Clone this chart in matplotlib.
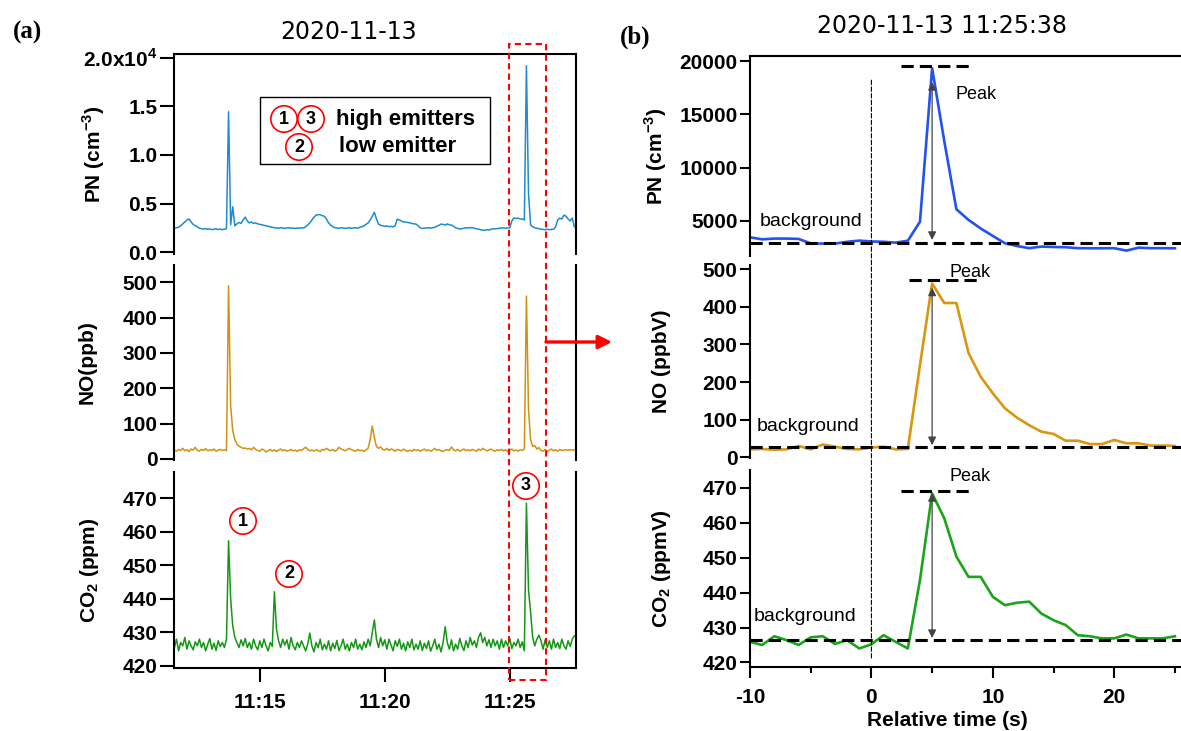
import numpy as np
import matplotlib
matplotlib.use('Agg')
import matplotlib.pyplot as plt
from matplotlib.patches import Rectangle, ConnectionPatch
from matplotlib.transforms import blended_transform_factory

plt.rcParams['font.family'] = ['Liberation Sans', 'DejaVu Sans']
plt.rcParams['font.weight'] = 'bold'
plt.rcParams['axes.labelweight'] = 'bold'
plt.rcParams['axes.unicode_minus'] = False
plt.rcParams['mathtext.fontset'] = 'custom'
plt.rcParams['mathtext.rm'] = 'Liberation Sans'
plt.rcParams['mathtext.bf'] = 'Liberation Sans:bold'
plt.rcParams['axes.linewidth'] = 1.5

# ---- (a) time series: 5 s samples from 11:11:35 (time in minutes after 11:00)
start_min = 11 + 35 / 60
step_min = 5 / 60

pn_series = [
    2470, 2500, 2550, 2700, 2900, 3100, 3300, 3400, 3100, 2850, 2700, 2600,
    2450, 2400, 2350, 2420, 2330, 2380, 2300, 2350, 2400, 2320, 2360, 2300,
    2350, 2400, 14460, 2800, 4670, 2700, 2900, 3050, 2950, 3300, 3600, 3200,
    3000, 3100, 2950, 3000, 2900, 2850, 2800, 2750, 2700, 2650, 2600, 2550,
    2500, 2480, 2450, 2520, 2470, 2430, 2480, 2500, 2450, 2470, 2420, 2480,
    2450, 2500, 2480, 2600, 2800, 3000, 3300, 3600, 3800, 3850, 3850, 3750,
    3680, 3400, 3000, 2780, 2600, 2500, 2470, 2450, 2500, 2480, 2430, 2470,
    2500, 2450, 2480, 2500, 2450, 2550, 2600, 2700, 2850, 3000, 3300, 3700,
    4100, 3400, 2880, 2750, 2700, 2650, 2680, 2620, 2640, 2600, 2700, 3400,
    3300, 3200, 3100, 3080, 3050, 3000, 2950, 2900, 2880, 2700, 2500, 2430,
    2450, 2480, 2500, 2470, 2500, 2550, 2650, 2750, 2880, 2850, 2780, 2900,
    2800, 2780, 2650, 2500, 2420, 2380, 2400, 2450, 2500, 2480, 2520, 2500,
    2450, 2400, 2350, 2300, 2250, 2240, 2300, 2250, 2350, 2400, 2380, 2420,
    2450, 2470, 2500, 2450, 2480, 2500, 3200, 3500, 3450, 3500, 3400, 3400,
    3300, 19200, 6000, 2800, 2600, 2500, 2450, 2400, 2350, 2320, 2300, 2350,
    2300, 2320, 2350, 2600, 3300, 3500, 3400, 3800, 3700, 3400, 3200, 3500,
    2600,
]
no_series = [
    25, 22, 27, 24, 30, 23, 26, 21, 28, 25, 33, 24,
    22, 27, 24, 29, 23, 26, 24, 28, 22, 25, 27, 24,
    26, 23, 490, 150, 80, 55, 42, 36, 33, 30, 31, 28,
    30, 26, 33, 27, 24, 22, 28, 25, 20, 23, 27, 22,
    26, 21, 25, 28, 23, 26, 22, 24, 27, 23, 25, 21,
    26, 24, 29, 33, 27, 23, 25, 22, 26, 24, 21, 27,
    25, 30, 26, 23, 27, 22, 25, 33, 28, 26, 23, 27,
    30, 26, 24, 22, 27, 23, 25, 21, 26, 30, 55, 93,
    60, 35, 30, 34, 27, 25, 30, 24, 28, 26, 22, 27,
    25, 23, 28, 24, 21, 25, 22, 27, 24, 26, 22, 25,
    28, 23, 26, 22, 25, 30, 24, 27, 23, 21, 25, 26,
    24, 34, 26, 23, 27, 22, 25, 28, 24, 26, 23, 27,
    25, 22, 28, 24, 30, 26, 23, 25, 28, 24, 22, 26,
    24, 27, 23, 26, 21, 25, 28, 23, 25, 22, 26, 24,
    28, 461, 140, 55, 35, 38, 28, 32, 24, 22, 27, 20,
    25, 28, 23, 26, 22, 27, 24, 25, 26, 25, 26, 25,
    26,
]
co2_series = [
    425.5, 428.0, 424.5, 427.0, 426.0, 428.5, 425.0, 427.5, 426.0, 424.8, 427.2, 426.0,
    428.0, 425.5, 427.0, 424.5, 426.5, 428.2, 425.0, 426.8, 424.6, 427.5, 425.8, 427.0,
    425.5, 428.0, 457.3, 440.0, 432.0, 428.5, 427.0, 425.5, 427.8, 426.0, 428.2, 425.5,
    427.0, 425.0, 428.0, 426.0, 424.8, 427.5, 425.5, 428.0, 426.0, 424.5, 427.0, 425.8,
    442.1, 431.0, 427.5, 425.5, 428.0, 426.2, 427.8, 425.0, 428.5, 426.0, 424.8, 427.0,
    425.5, 427.5, 426.0, 424.5, 426.5, 429.8, 426.0, 424.2, 427.0, 425.5, 428.0, 424.8,
    426.5, 425.0, 427.5, 424.5, 426.8, 425.2, 427.6, 424.6, 426.0, 428.0, 425.0, 426.5,
    424.5, 427.0, 425.5, 428.0, 425.0, 426.5, 424.8, 427.2, 425.5, 428.0, 426.0, 430.0,
    433.7, 428.0, 425.5, 428.5, 426.0, 427.8, 425.0, 428.0, 426.2, 424.5, 427.5, 425.8,
    428.0, 425.0, 426.8, 424.5, 427.2, 425.5, 428.0, 424.8, 426.5, 425.0, 427.5, 424.6,
    426.8, 425.2, 427.5, 424.4, 426.0, 428.0, 425.0, 426.5, 424.2, 427.0, 431.7, 427.0,
    425.0, 427.8, 424.5, 426.5, 425.0, 428.2, 426.0, 424.6, 427.5, 425.5, 428.5, 426.2,
    427.5, 425.5, 428.5, 429.9, 427.0, 428.5, 426.0, 427.8, 425.5, 428.0, 426.0, 427.5,
    425.0, 428.0, 425.5, 427.5, 426.0, 428.2, 425.2, 427.0, 426.0, 428.0, 425.5, 427.2,
    424.5, 468.5, 442.7, 436.0, 428.5, 426.0, 428.0, 429.2, 427.5, 425.0, 427.8, 425.5,
    427.5, 425.0, 428.0, 425.5, 427.0, 425.2, 428.0, 426.0, 425.0, 427.5, 425.8, 428.0,
    429.0,
]
tick_minutes = [15, 20, 25]
tick_labels = ['11:15', '11:20', '11:25']
pn_ticks = [0, 5000, 10000, 15000, 20000]
pn_tick_labels = ['0.0', '0.5', '1.0', '1.5', r'2.0x10$^{\mathbf{4}}$']

# ---- (b) event 2020-11-13 11:25:38, 1 s samples
rel_time = list(range(-10, 26))
pn_event = [3470, 3280, 3350, 3350, 3320, 2900, 2880, 2880, 3050, 3160, 3080, 3050,
            2970, 3150, 4940, 19330, 12500, 6100, 5100, 4300, 3600, 2910, 2650, 2450,
            2600, 2560, 2540, 2450, 2440, 2440, 2450, 2220, 2500, 2450, 2450, 2440]
no_event = [21, 22, 20, 21, 30, 21, 34, 28, 22, 21, 26, 28, 21, 22, 245, 462, 410, 410,
            277, 214, 170, 130, 105, 85, 68, 62, 44, 44, 35, 35, 46, 37, 37, 31, 31, 30]
co2_event = [425.9, 425.0, 427.5, 426.4, 425.0, 427.2, 427.5, 425.3, 426.4, 424.0, 425.2,
             427.8, 425.9, 424.0, 443.6, 468.4, 461.3, 450.3, 444.5, 444.5, 438.8, 436.4,
             437.1, 437.4, 434.0, 432.1, 430.7, 427.8, 427.5, 426.9, 426.9, 428.0, 426.9,
             426.9, 426.9, 427.5]
background = [2950, 28, 426.4]
peak_level = [19530, 470, 469.1]
peak_span = [(2.4, 8.1), (3.1, 8.8), (2.4, 8.1)]
arrow_span = [(3220, 18030), (32, 451), (427, 468.5)]
peak_time = 5

W, H = 1181, 731
fig = plt.figure(figsize=(W / 100, H / 100), dpi=100)


def px_axes(x0, x1, y0, y1):
    return fig.add_axes([x0 / W, 1 - y1 / H, (x1 - x0) / W, (y1 - y0) / H])


ax_l = [px_axes(174, 576, 54, 254), px_axes(174, 576, 265, 460), px_axes(174, 576, 472, 668)]
ax_r = [px_axes(750, 1181, 56, 256), px_axes(750, 1181, 265, 458), px_axes(750, 1181, 470, 667)]

t_left = start_min + np.arange(len(pn_series)) * step_min
left_colours = ['#1f8bd0', '#d4900f', '#169616']
right_colours = ['#2452f0', '#d9960f', '#1ba31b']

# ---- left panels
for ax, series, colour in zip(ax_l, [pn_series, no_series, co2_series], left_colours):
    ax.plot(t_left, series, color=colour, lw=1.1)
    ax.set_xlim(11.567, 27.65)
    ax.tick_params(axis='y', direction='out', length=10, width=1.5, pad=2, labelsize=15)
    ax.spines['top'].set_visible(False)
    ax.spines['bottom'].set_visible(False)
    ax.tick_params(axis='x', bottom=False, labelbottom=False)

ax_l[0].spines['top'].set_visible(True)
ax_l[0].set_ylim(-206, 20412)
ax_l[0].set_yticks(pn_ticks)
ax_l[0].set_yticklabels(pn_tick_labels)
ax_l[1].set_ylim(-3, 549)
ax_l[1].set_yticks(range(0, 501, 100))
ax_l[2].set_ylim(419.4, 477.8)
ax_l[2].set_yticks(range(420, 471, 10))
ax_l[2].spines['bottom'].set_visible(True)
ax_l[2].set_xticks(tick_minutes)
ax_l[2].set_xticklabels(tick_labels)
ax_l[2].tick_params(axis='x', bottom=True, labelbottom=True, direction='out',
                    length=10, width=1.5, pad=8, labelsize=15)

left_labels = [r'PN (cm$^{\mathbf{-3}}$)', 'NO(ppb)', r'CO$_{\mathbf{2}}$ (ppm)']
for ax, lab, lx in zip(ax_l, left_labels, [-0.199, -0.216, -0.209]):
    ax.set_ylabel(lab, fontsize=15, va='center')
    ax.yaxis.set_label_coords(lx, 0.5)

# legend box of the emitters
ax_l[0].add_patch(Rectangle((0.214, 0.45), 0.572, 0.335, transform=ax_l[0].transAxes,
                            fill=False, ec='black', lw=1.0))
fig.text(336 / W, 1 - 119 / H, 'high emitters', fontsize=16, va='center', ha='left')
fig.text(339 / W, 1 - 147 / H, 'low emitter', fontsize=16, va='center', ha='left')


def circled(x, y, num):
    fig.text(x / W, 1 - y / H, num, fontsize=13, ha='center', va='center',
             bbox=dict(boxstyle='circle,pad=0.26', fc='white', ec='red', lw=1.2))


circled(284, 119, '1')
circled(311, 119, '3')
circled(299, 147, '2')
circled(243, 521, '1')
circled(289, 574, '2')
circled(526, 486, '3')

# red selection box and arrow towards (b)
box_tf = blended_transform_factory(ax_l[2].transData, fig.transFigure)
fig.add_artist(Rectangle((24.97, 1 - 680 / H), 1.48, 636 / H, transform=box_tf,
                         fill=False, ec='red', lw=1.5, ls=(0, (3, 2))))
ax_l[1].annotate('', xy=(612 / W, 1 - 342 / H), xycoords='figure fraction',
                 xytext=(26.45, 331), textcoords='data', annotation_clip=False,
                 arrowprops=dict(arrowstyle='-|>', color='red', lw=2.4,
                                 mutation_scale=20, shrinkA=0, shrinkB=0))

# ---- right panels
for i, (ax, series, colour) in enumerate(zip(ax_r, [pn_event, no_event, co2_event], right_colours)):
    ax.plot(rel_time, series, color=colour, lw=1.9)
    ax.set_xlim(-10, 25.5)
    ax.axhline(background[i], color='black', lw=2.2, dashes=(4, 2))
    ax.plot(peak_span[i], [peak_level[i]] * 2, color='black', lw=2.2, dashes=(4, 2))
    ax.annotate('', xy=(peak_time, arrow_span[i][0]), xytext=(peak_time, arrow_span[i][1]),
                arrowprops=dict(arrowstyle='<|-|>', color='#444444', lw=0.9,
                                mutation_scale=12, shrinkA=0, shrinkB=0))
    ax.tick_params(axis='y', direction='out', length=7, width=1.5, pad=2, labelsize=15)
    ax.spines['top'].set_visible(False)
    ax.spines['right'].set_visible(False)
    ax.spines['bottom'].set_visible(False)
    ax.tick_params(axis='x', which='both', bottom=False, labelbottom=False)

ax_r[0].spines['top'].set_visible(True)
ax_r[0].set_ylim(1717, 20470)
ax_r[0].set_yticks([5000, 10000, 15000, 20000])
ax_r[1].set_ylim(-2, 511)
ax_r[1].set_yticks(range(0, 501, 100))
ax_r[2].set_ylim(418.7, 475.1)
ax_r[2].set_yticks(range(420, 471, 10))
ax_r[2].spines['bottom'].set_visible(True)
ax_r[2].set_xticks([-10, 0, 10, 20])
ax_r[2].set_xticks([-5, 5, 15, 25], minor=True)
ax_r[2].tick_params(axis='x', which='both', bottom=True, labelbottom=True, direction='out',
                    width=1.5, pad=7, labelsize=15)
ax_r[2].tick_params(axis='x', which='major', length=8)
ax_r[2].tick_params(axis='x', which='minor', length=4)
ax_r[2].set_xlabel('Relative time (s)', fontsize=15, va='center')
ax_r[2].xaxis.set_label_coords(0.459, -0.272)

right_labels = [r'PN (cm$^{\mathbf{-3}}$)', 'NO (ppbV)', r'CO$_{\mathbf{2}}$ (ppmV)']
for ax, lab, lx in zip(ax_r, right_labels, [-0.218, -0.206, -0.206]):
    ax.set_ylabel(lab, fontsize=15, va='center')
    ax.yaxis.set_label_coords(lx, 0.5)

# annotations inside (b)
ax_r[0].text(-9.2, 4906, 'background', fontsize=14, fontweight='normal', va='center')
ax_r[1].text(-9.45, 83, 'background', fontsize=14, fontweight='normal', va='center')
ax_r[2].text(-9.7, 433.3, 'background', fontsize=14, fontweight='normal', va='center')
ax_r[0].text(6.96, 16900, 'Peak', fontsize=13, fontweight='normal', va='center')
ax_r[1].text(6.47, 490, 'Peak', fontsize=13, fontweight='normal', va='center')
ax_r[2].text(6.47, 473.1, 'Peak', fontsize=13, fontweight='normal', va='center')

# event start marker at t = 0 running through the three panels
fig.add_artist(ConnectionPatch(xyA=(0, 18200), coordsA=ax_r[0].transData,
                               xyB=(0, 420.7), coordsB=ax_r[2].transData,
                               color='black', lw=0.8, linestyle=(0, (4, 2))))

# titles and panel letters
fig.text(349 / W, 1 - 32 / H, '2020-11-13', fontsize=17, fontweight='normal',
         family='DejaVu Sans', ha='center', va='center')
fig.text(942 / W, 1 - 26 / H, '2020-11-13 11:25:38', fontsize=17, fontweight='normal',
         family='DejaVu Sans', ha='center', va='center')
fig.text(13 / W, 1 - 32 / H, '(a)', fontsize=18, family='Liberation Serif',
         ha='left', va='center')
fig.text(620 / W, 1 - 37 / H, '(b)', fontsize=18, family='Liberation Serif',
         ha='left', va='center')

fig.savefig('out.png', dpi=100)
